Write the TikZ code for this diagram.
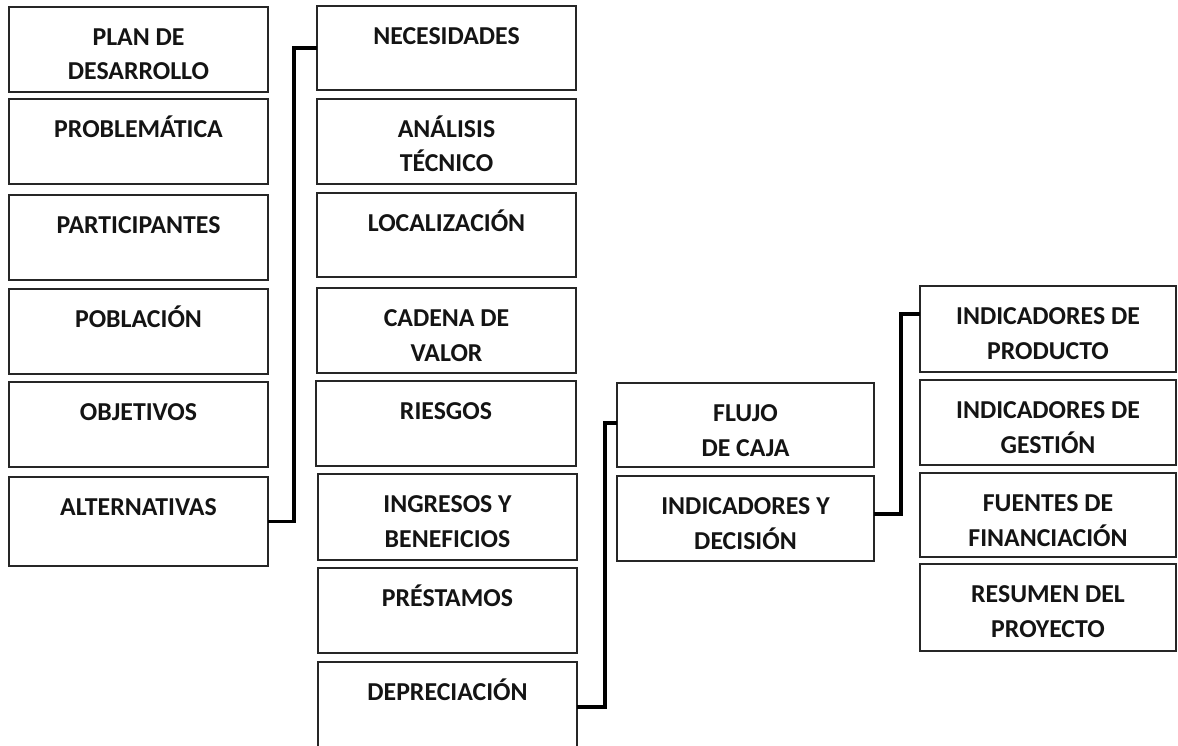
\documentclass[tikz,border=0pt]{standalone}
\usepackage{fontspec}
\setmainfont{Carlito}
\begin{document}
\begin{tikzpicture}[x=1pt,y=-1pt,
  boxst/.style={draw=black!85,line width=2.9pt,rectangle,inner sep=0pt,outer sep=0pt,anchor=north west,fill=white},
  txt/.style={font=\bfseries\fontsize{25.8pt}{34.5pt}\selectfont,align=center,anchor=base,inner sep=0pt,text=black!92},
  link/.style={draw=black,line width=3.2pt}]
\useasboundingbox (0,0) rectangle (1178,746);
\clip (0,0) rectangle (1178,746);
\fill[white] (0,0) rectangle (1178,746);
% box: name, left, top, right, bottom, text, baseline of the last text line below the top
\newcommand{\mkbox}[7]{%
  \node[boxst,minimum width={#4-#2},minimum height={#5-#3}] (#1) at (#2,#3) {};
  \node[txt] (#1-t) at ([yshift=-#7pt]#1.north) {#6};}
\def\one{38.5}
\def\two{73}
% first column
\mkbox{plan}{9}{7}{268}{92}{PLAN DE\\DESARROLLO}{\two}
\mkbox{prob}{9}{99}{268}{184}{PROBLEMÁTICA}{\one}
\mkbox{part}{9}{195}{268}{280}{PARTICIPANTES}{\one}
\mkbox{pobl}{9}{289}{268}{374}{POBLACIÓN}{\one}
\mkbox{obj}{9}{382}{268}{467}{OBJETIVOS}{\one}
\mkbox{alt}{9}{477}{268}{566}{ALTERNATIVAS}{\one}
% second column
\mkbox{nec}{317}{6}{576}{90}{NECESIDADES}{\one}
\mkbox{ana}{317}{99}{576}{184}{ANÁLISIS\\TÉCNICO}{\two}
\mkbox{loc}{317}{193}{576}{277}{LOCALIZACIÓN}{\one}
\mkbox{cad}{317}{288}{576}{373}{CADENA DE\\VALOR}{\two}
\mkbox{rie}{316}{381}{576}{466}{RIESGOS}{\one}
\mkbox{ing}{318}{474}{577}{560}{INGRESOS Y\\BENEFICIOS}{\two}
\mkbox{pre}{318}{568}{577}{653}{PRÉSTAMOS}{\one}
\mkbox{dep}{318}{662}{577}{752}{DEPRECIACIÓN}{\one}
% third column
\mkbox{flu}{617}{383}{874}{467}{FLUJO\\DE CAJA}{\two}
\mkbox{ind}{617}{476}{874}{561}{INDICADORES Y\\DECISIÓN}{\two}
% fourth column
\mkbox{ip}{920}{286}{1176}{372}{INDICADORES DE\\PRODUCTO}{\two}
\mkbox{ig}{920}{380}{1176}{465}{INDICADORES DE\\GESTIÓN}{\two}
\mkbox{ff}{920}{473}{1176}{557}{FUENTES DE\\FINANCIACIÓN}{\two}
\mkbox{rp}{920}{564}{1176}{651}{RESUMEN DEL\\PROYECTO}{\two}
% connectors
\draw[link] (alt.east) -- ++(26,0) |- (nec.west);
\draw[link] (dep.east) -- ++(28,0) |- ([yshift=2pt]flu.west);
\draw[link] ([yshift=4.5pt]ind.east) -- ++(27,0) |- ([yshift=15pt]ip.west);
\end{tikzpicture}
\end{document}
